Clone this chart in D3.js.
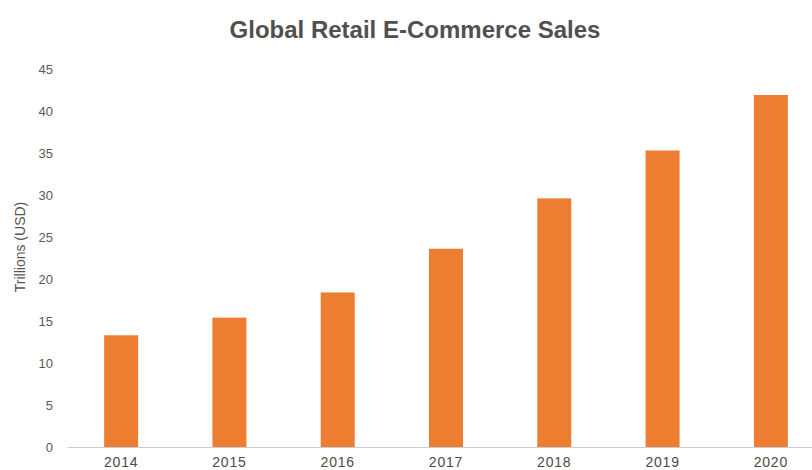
<!DOCTYPE html>
<html>
<head>
<meta charset="utf-8">
<script src="https://cdn.jsdelivr.net/npm/d3@7"></script>
<style>
  html, body { margin: 0; padding: 0; background: #fff; }
  svg { display: block; font-family: "Liberation Sans", Arial, sans-serif; }
</style>
</head>
<body>
<svg id="chart" width="812" height="470"></svg>
<script>
// Global retail e-commerce sales by year
const years = ["2014", "2015", "2016", "2017", "2018", "2019", "2020"];
const sales = [13.3, 15.4, 18.4, 23.6, 29.6, 35.3, 41.9];
const yTicks = [0, 5, 10, 15, 20, 25, 30, 35, 40, 45];

const svg = d3.select("#chart");
const plotLeft = 67, plotRight = 825, plotTop = 69, plotBottom = 447;

const x = d3.scaleBand()
  .domain(years)
  .range([plotLeft, plotRight])
  .paddingInner(0.686)
  .paddingOuter(0.343);

const y = d3.scaleLinear()
  .domain([0, 45])
  .range([plotBottom, plotTop]);

// Title
svg.append("text")
  .attr("x", 415)
  .attr("y", 38)
  .attr("text-anchor", "middle")
  .attr("font-size", 24)
  .attr("font-weight", "bold")
  .attr("fill", "#505050")
  .text("Global Retail E-Commerce Sales");

// Y axis labels
const yAxis = d3.axisLeft(y).tickValues(yTicks).tickSize(0).tickPadding(14);
const gy = svg.append("g").attr("transform", `translate(${plotLeft},0)`).call(yAxis);
gy.select(".domain").remove();
gy.selectAll("text")
  .attr("font-size", 13)
  .attr("fill", "#5a5a5a")
  .attr("font-family", "\"Liberation Sans\", Arial, sans-serif");

// Y axis title
svg.append("text")
  .attr("transform", "translate(25,247) rotate(-90)")
  .attr("text-anchor", "middle")
  .attr("font-size", 14)
  .attr("fill", "#555")
  .text("Trillions (USD)");

// Bars
svg.append("g")
  .selectAll("rect")
  .data(years.map((yr, i) => ({ yr, v: sales[i] })))
  .join("rect")
  .attr("x", d => x(d.yr))
  .attr("width", x.bandwidth())
  .attr("y", d => y(d.v))
  .attr("height", d => y(0) - y(d.v))
  .attr("fill", "#ED7D31");

// X axis
const xAxis = d3.axisBottom(x).tickSize(0).tickPadding(10);
const gx = svg.append("g").attr("transform", `translate(0,${plotBottom})`).call(xAxis);
gx.select(".domain").attr("stroke", "#c9ccd4").attr("stroke-width", 1);
gx.selectAll("text")
  .attr("font-size", 14)
  .attr("letter-spacing", 0.8)
  .attr("fill", "#4a4a4a")
  .attr("font-family", "\"Liberation Sans\", Arial, sans-serif");
</script>
</body>
</html>
